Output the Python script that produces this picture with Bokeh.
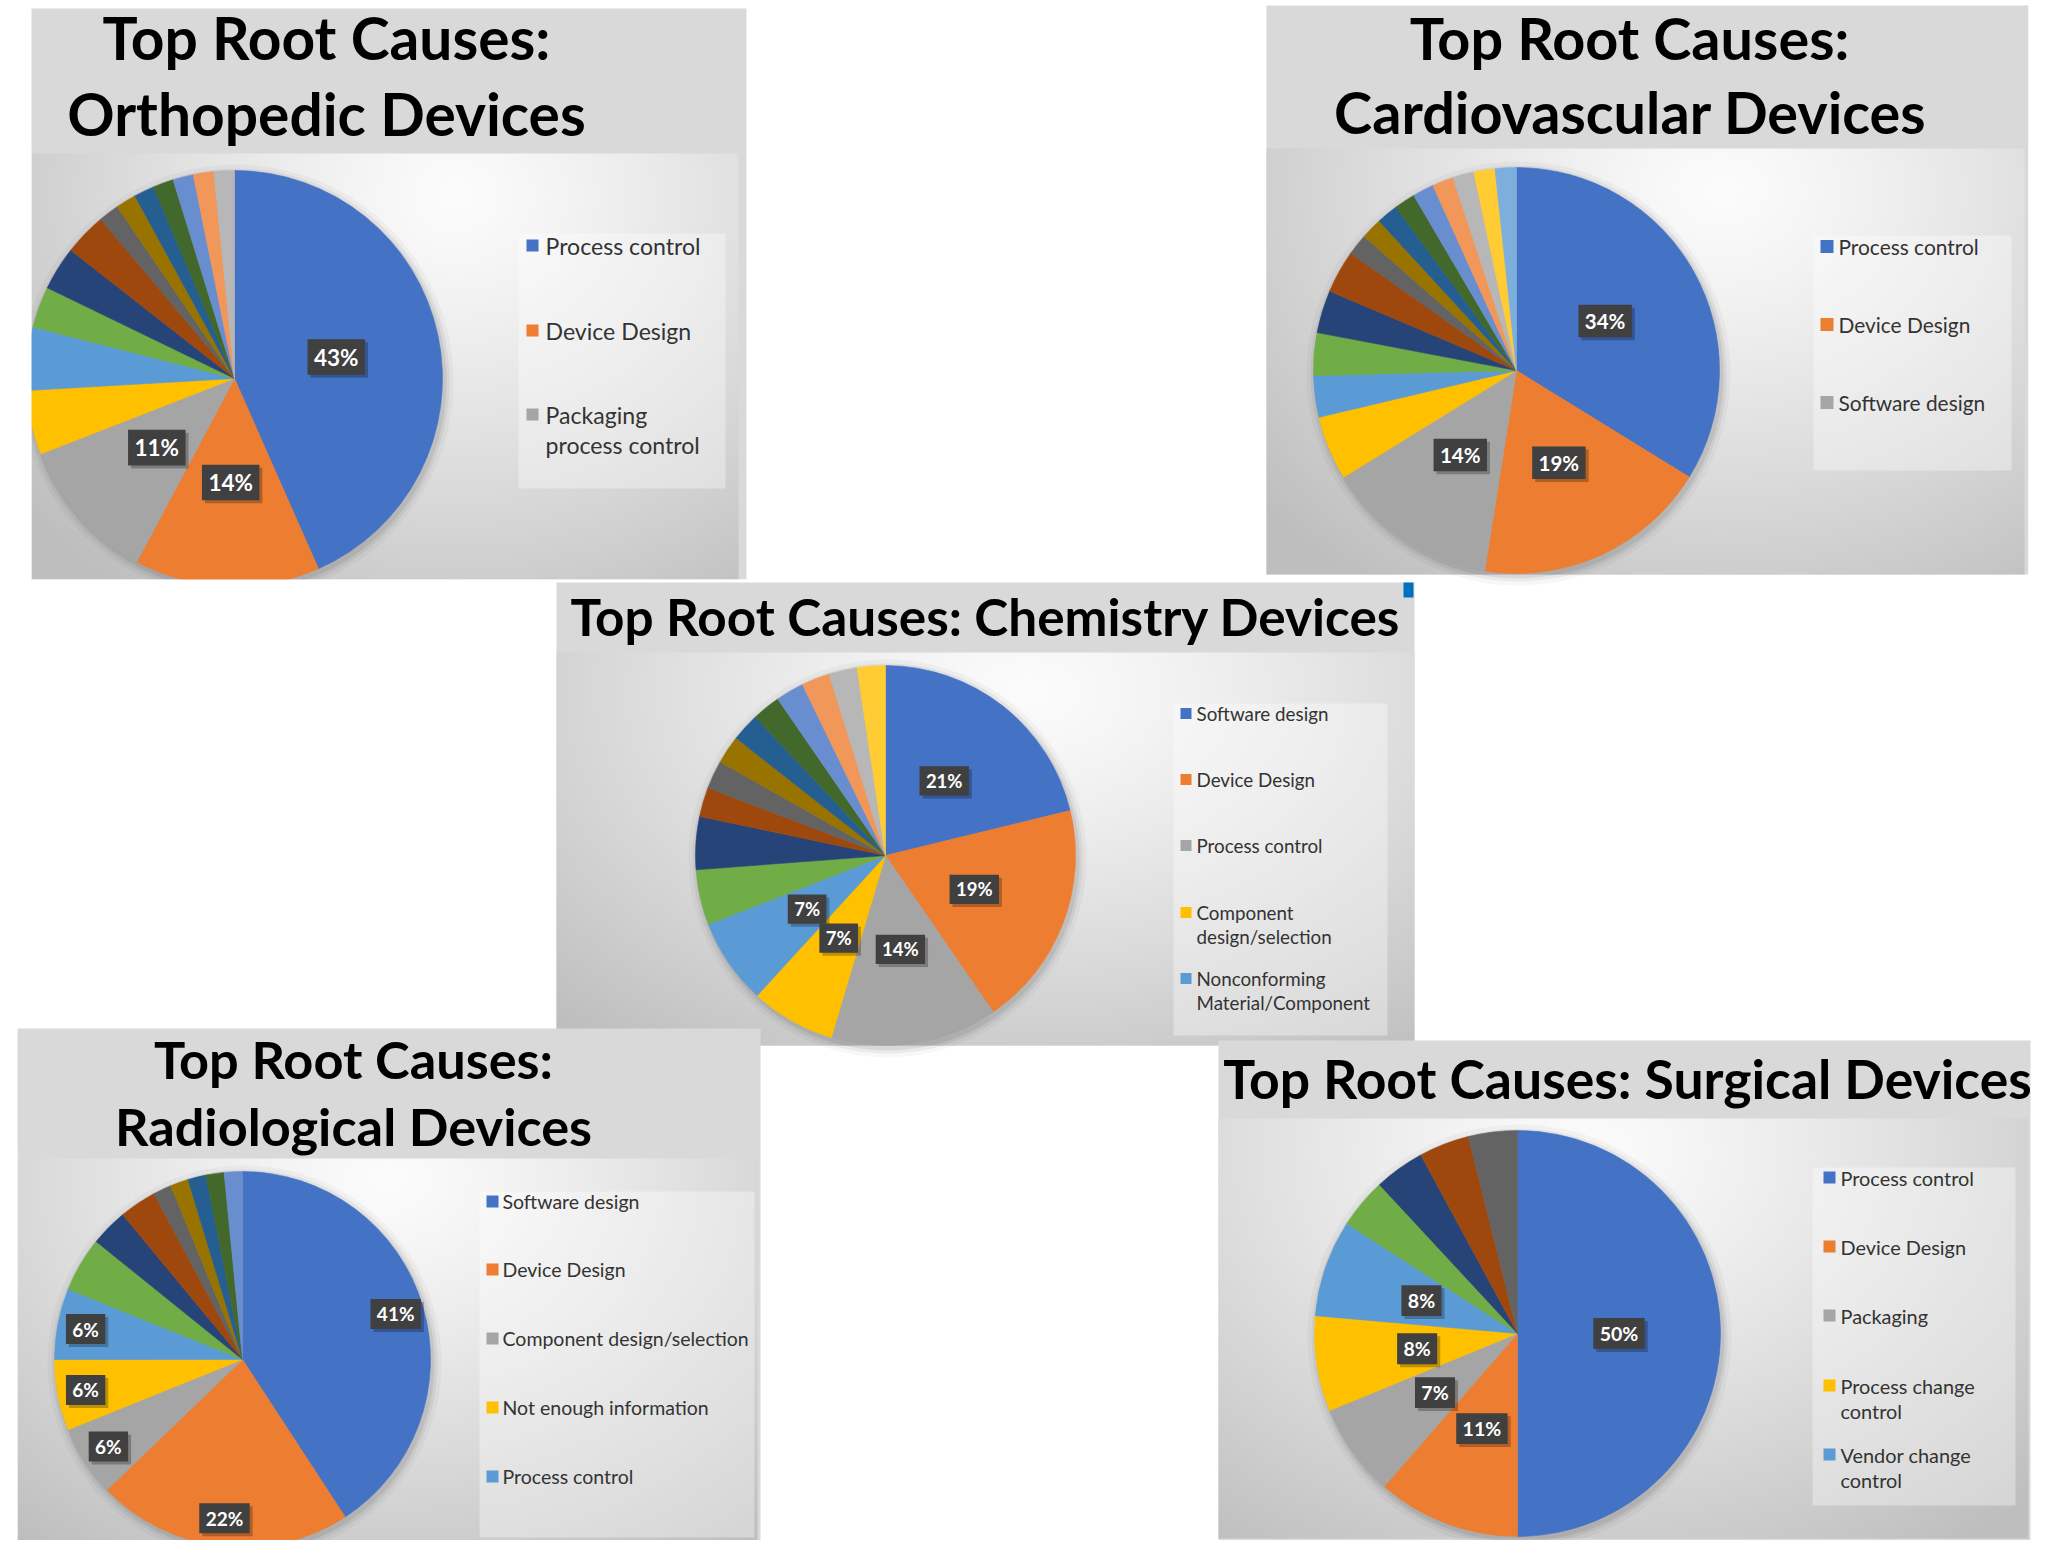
import numpy as np
from bokeh.plotting import figure
from bokeh.models import Range1d, ColumnDataSource
from bokeh.core.properties import value
from bokeh.embed import file_html
from bokeh.resources import INLINE

# ---------------- data ----------------
PALETTE = ["#4472C4", "#ED7D31", "#A5A5A5", "#FFC000", "#5B9BD5", "#70AD47",
           "#264478", "#9E480E", "#636363", "#997300", "#255E91", "#43682B",
           "#698ED0", "#F1975A", "#B7B7B7", "#FFCD33", "#7CAFDD"]

ortho_title = ["Top Root Causes:", "Orthopedic Devices"]
ortho_values = [43.4, 14.4, 11.3, 5.0, 4.9, 3.2, 3.4, 3.3, 1.59, 1.59, 1.59, 1.59, 1.59, 1.59, 1.59]
ortho_legend = ["Process control", "Device Design", "Packaging\nprocess control"]
ortho_nlabels = 3

cardio_title = ["Top Root Causes:", "Cardiovascular Devices"]
cardio_values = [33.8, 18.7, 13.7, 5.1, 3.3, 3.4, 3.4, 3.4, 1.69, 1.69, 1.69, 1.69, 1.69, 1.69, 1.69, 1.69, 1.69]
cardio_legend = ["Process control", "Device Design", "Software design"]
cardio_nlabels = 3

chem_title = ["Top Root Causes: Chemistry Devices"]
chem_values = [21.2, 19.2, 14.2, 7.2, 7.3, 4.7, 4.5, 2.5, 2.4, 2.4, 2.4, 2.4, 2.4, 2.4, 2.4, 2.4]
chem_legend = ["Software design", "Device Design", "Process control",
               "Component\ndesign/selection", "Nonconforming\nMaterial/Component"]
chem_nlabels = 5

radio_title = ["Top Root Causes:", "Radiological Devices"]
radio_values = [40.8, 22.0, 6.1, 6.1, 6.1, 4.7, 3.2, 3.2, 1.56, 1.56, 1.56, 1.56, 1.56]
radio_legend = ["Software design", "Device Design", "Component design/selection",
                "Not enough information", "Process control"]
radio_nlabels = 5

surg_title = ["Top Root Causes: Surgical Devices"]
surg_values = [50.0, 11.4, 7.4, 7.6, 7.7, 4.0, 4.0, 4.0, 3.9]
surg_legend = ["Process control", "Device Design", "Packaging",
               "Process change\ncontrol", "Vendor change\ncontrol"]
surg_nlabels = 5

# ---------------- canvas ----------------
W, H = 2040, 1540
FONT = value("Lato")


def X(x):
    return x


def Y(y):
    return H - y


p = figure(width=W, height=H, x_range=Range1d(0, W), y_range=Range1d(0, H),
           output_backend="svg", toolbar_location=None, min_border=0,
           x_axis_type=None, y_axis_type=None)
p.grid.visible = False
p.outline_line_color = None
p.background_fill_color = "white"
p.border_fill_color = "white"


def box(x0, y0, x1, y1, color, alpha=1.0):
    p.quad(left=X(x0), right=X(x1), top=Y(y0), bottom=Y(y1),
           fill_color=color, fill_alpha=alpha, line_color=None)


def gradient(w, h, cx=0.6, cy=0.1, ax=0.8, ay=1.15, lo=190, hi=252, step=3):
    nx, ny = max(2, int(w) // step), max(2, int(h) // step)
    xs = (np.arange(nx) + 0.5) / nx
    ys = (np.arange(ny) + 0.5) / ny
    gx, gy = np.meshgrid(xs, ys)
    d = np.sqrt(((gx - cx) / ax) ** 2 + ((gy - cy) / ay) ** 2)
    t = np.clip(d, 0, 1) ** 1.2
    c = (hi - (hi - lo) * t).astype(np.uint8)
    img = np.empty((ny, nx), dtype=np.uint32)
    v = img.view(dtype=np.uint8).reshape((ny, nx, 4))
    v[..., 0] = c
    v[..., 1] = c
    v[..., 2] = c
    v[..., 3] = 255
    return img[::-1]


def panel(values, title, legend, nlabels, g):
    px0, py0, px1, py1 = g["panel"]
    box(px0, py0, px1, py1, "#D9D9D9")
    cx0, cy0, cx1, cy1 = g["chart"]
    img = gradient(cx1 - cx0, cy1 - cy0, **g.get("grad", {}))
    p.image_rgba(image=[img], x=X(cx0), y=Y(cy1), dw=cx1 - cx0, dh=cy1 - cy0)

    # title
    for (tx, ty), line in zip(g["title_pos"], title):
        p.text(x=[X(tx)], y=[Y(ty)], text=[line], text_font=FONT, text_font_style="bold",
               text_font_size="%.1fpx" % g["title_fs"], text_color="black",
               text_align="center", text_baseline="middle")

    # pie
    cx, cy, r = g["pie"]
    vals = np.array(values, dtype=float)
    frac = vals / vals.sum()
    cum = np.concatenate([[0.0], np.cumsum(frac)])
    colors = PALETTE[:len(vals)]
    for extra, a in ((9, 0.03), (5, 0.05), (2, 0.07)):
        p.circle(x=[X(cx) + 2], y=[Y(cy) - 3], radius=r + extra, fill_color="black",
                 fill_alpha=a, line_color=None)
    src = ColumnDataSource(dict(start=np.pi / 2 - 2 * np.pi * cum[:-1],
                                end=np.pi / 2 - 2 * np.pi * cum[1:], color=colors))
    p.wedge(x=X(cx), y=Y(cy), radius=r, start_angle="start", end_angle="end",
            direction="clock", fill_color="color", line_color="color", line_width=0.6,
            source=src)

    # data labels
    mid = (cum[:-1] + cum[1:]) / 2 * 2 * np.pi
    f = g["label_frac"]
    fs = g["label_fs"]
    lx = X(cx) + f * r * np.sin(mid[:nlabels])
    ly = Y(cy) + f * r * np.cos(mid[:nlabels])
    texts = ["%d%%" % int(round(v * 100)) for v in frac[:nlabels]]
    widths = [fs * (0.58 * (len(t) - 1) + 0.86) + 12 for t in texts]
    hgt = fs * 1.58
    p.rect(x=lx + 3, y=ly - 3, width=widths, height=hgt, fill_color="black",
           fill_alpha=0.25, line_color=None)
    p.rect(x=lx, y=ly, width=widths, height=hgt, fill_color="#404040",
           line_color=None)
    p.text(x=lx, y=ly, text=texts, text_font=FONT, text_font_style="bold",
           text_font_size="%.1fpx" % fs, text_color="white",
           text_align="center", text_baseline="middle")

    # legend
    bx0, by0, bx1, by1 = g["legend_box"]
    box(bx0, by0, bx1, by1, "white", 0.35)
    sq0, sq1, tx = g["legend_x"]
    lfs = g["legend_fs"]
    sq = sq1 - sq0
    for i, (item, yc) in enumerate(zip(legend, g["legend_y"])):
        lines = item.split("\n")
        ys = yc if isinstance(yc, (list, tuple)) else [yc]
        box(sq0, ys[0] - sq / 2, sq1, ys[0] + sq / 2, PALETTE[i])
        for line, yy in zip(lines, ys):
            p.text(x=[X(tx)], y=[Y(yy)], text=[line], text_font=FONT,
                   text_font_size="%.1fpx" % lfs, text_color="#333333",
                   text_align="left", text_baseline="middle")


# ---- Orthopedic ----
panel(ortho_values, ortho_title, ortho_legend, ortho_nlabels, dict(
    panel=(31, 8, 746, 579), chart=(31, 153, 738, 579),
    title_pos=[(326, 37), (326, 113)], title_fs=58.7,
    pie=(234, 378, 208), label_frac=0.5, label_fs=22.5,
    legend_box=(518, 233, 725, 488), legend_x=(526, 538, 545),
    legend_y=[245, 330, (414, 444)], legend_fs=23.1))
# clip pie overflow of the orthopedic chart
box(-20, 150, 31, 600, "white")
box(20, 579, 760, 600, "white")

# ---- Cardiovascular ----
panel(cardio_values, cardio_title, cardio_legend, cardio_nlabels, dict(
    panel=(1266, 5, 2028, 574), chart=(1266, 148, 2024, 574),
    title_pos=[(1629, 37), (1630, 111)], title_fs=57.6,
    pie=(1516, 370, 203), label_frac=0.5, label_fs=20.5,
    legend_box=(1813, 235, 2011, 470), legend_x=(1820, 1833, 1838),
    legend_y=[246, 324, 402], legend_fs=20.9))
box(2028, 0, 2060, 600, "white")

# ---- Chemistry ----
panel(chem_values, chem_title, chem_legend, chem_nlabels, dict(
    panel=(556, 582, 1414, 1045), chart=(556, 652, 1414, 1045),
    title_pos=[(985, 615)], title_fs=51.3,
    pie=(885, 855, 190), label_frac=0.5, label_fs=18.5,
    legend_box=(1173, 703, 1387, 1035), legend_x=(1180, 1191, 1196),
    legend_y=[713, 779, 845, (912, 936), (978, 1002)], legend_fs=18.8,
    grad=dict(cx=0.55, cy=0.1)))
box(1403, 582, 1413, 597, "#0070C0")

# ---- Radiological ----
panel(radio_values, radio_title, radio_legend, radio_nlabels, dict(
    panel=(17, 1028, 760, 1560), chart=(17, 1158, 757, 1560),
    title_pos=[(353, 1058), (353, 1125)], title_fs=52.3,
    pie=(242, 1359, 188), label_frac=0.85, label_fs=19,
    legend_box=(479, 1191, 754, 1537), legend_x=(486, 498, 502),
    legend_y=[1201, 1269, 1338, 1407, 1476], legend_fs=19.5,
    grad=dict(cx=0.5, cy=0.05)))
box(-20, 1150, 17, 1560, "white")

# ---- Surgical ----
panel(surg_values, surg_title, surg_legend, surg_nlabels, dict(
    panel=(1218, 1040, 2030, 1540), chart=(1218, 1118, 2028, 1538),
    title_pos=[(1627, 1077)], title_fs=53.5,
    pie=(1517, 1333, 203), label_frac=0.5, label_fs=19.5,
    legend_box=(1812, 1167, 2015, 1505), legend_x=(1823, 1835, 1840),
    legend_y=[1177, 1246, 1315, (1385, 1410), (1454, 1479)], legend_fs=19.9,
    grad=dict(cx=0.45, cy=0.08)))

open("out.html", "w").write(file_html(p, INLINE))
